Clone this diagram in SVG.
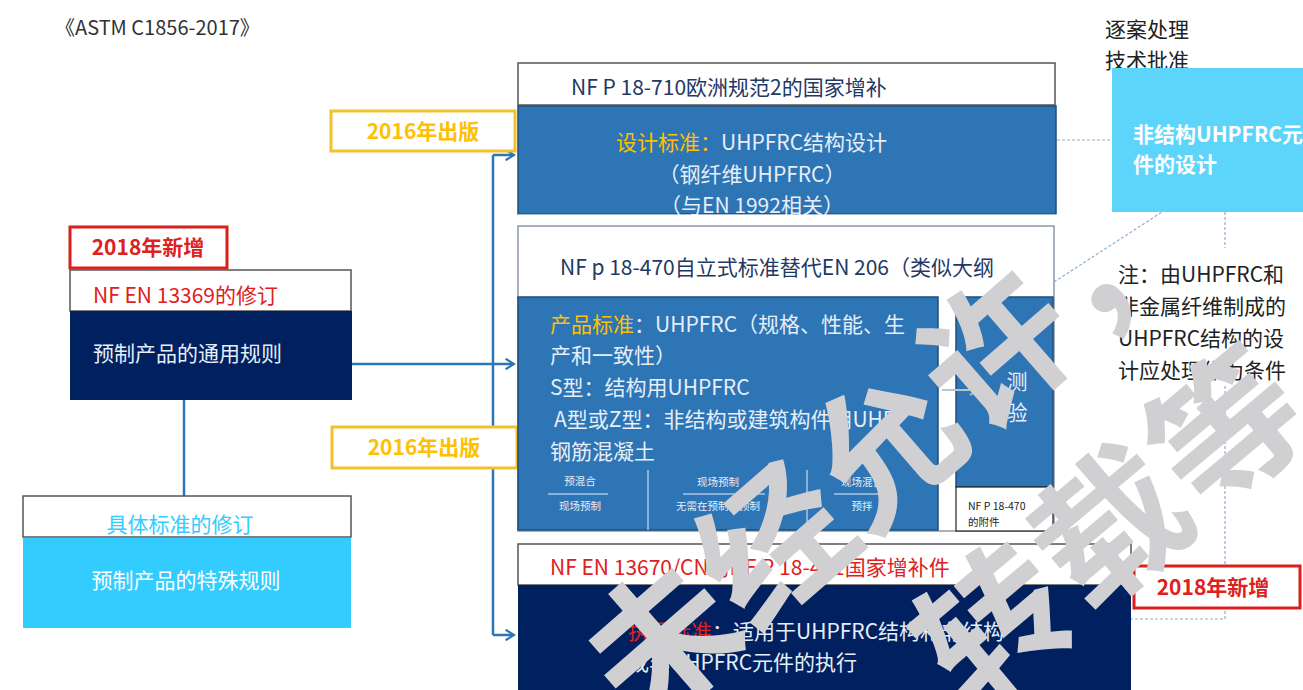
<svg xmlns="http://www.w3.org/2000/svg" width="1303" height="690" viewBox="0 0 1303 690">
<style>
text{font-family:"Noto Sans CJK SC","Noto Sans",sans-serif;font-size:21px}
.hdr{fill:#fff;stroke:#555;stroke-width:1.5}
.blue{fill:#2e75b6;stroke:#1f4e79;stroke-width:1.5}
.navy{fill:#002060}
.w{fill:#fff}
.wt{fill:#e6eef7}
.nv{fill:#1f3864}
.red{fill:#e02020}
.yel{fill:#ffc000}
.dark{fill:#222}
.bold{font-weight:bold}
.sm{font-size:10.5px;fill:#e6eef7}
.ybox{fill:#fff;stroke:#f2c12e;stroke-width:3}
.rbox{fill:#fff;stroke:#d8201c;stroke-width:3}
.conn{fill:none;stroke:#2e75b6;stroke-width:2.5}
.dot{fill:none;stroke:#8fb0cc;stroke-width:1.2;stroke-dasharray:3 2}
.wm{font-size:148px;font-weight:bold;fill:#d0d0d2}
</style>
<defs>
<marker id="arr" viewBox="0 0 12 12" refX="10" refY="6" markerWidth="5" markerHeight="5" orient="auto" markerUnits="strokeWidth">
<path d="M2,1 L10,6 L2,11" fill="none" stroke="#2e75b6" stroke-width="2.2"/>
</marker>
<marker id="garr" viewBox="0 0 12 12" refX="10" refY="6" markerWidth="6" markerHeight="6" orient="auto" markerUnits="strokeWidth">
<path d="M2,1 L10,6 L2,11" fill="none" stroke="#b8c4d0" stroke-width="2"/>
</marker>
</defs>
<rect width="1303" height="690" fill="#fff"/>

<text id="astm" x="55" y="35" style="font-size:20px" fill="#333">《ASTM C1856-2017》</text>

<g id="connectors">
<path class="conn" d="M184,400 V496"/>
<path class="conn" d="M352,364 H514" marker-end="url(#arr)"/>
<path class="conn" d="M493,155 V635"/>
<path class="conn" d="M493,155 H514" marker-end="url(#arr)"/>
<path class="conn" d="M493,635 H514" marker-end="url(#arr)"/>
<path class="dot" d="M1057,140 H1112"/>
<path class="dot" d="M1054,282 L1162,212"/>
<path class="dot" d="M1225,212 V248"/>
<path class="dot" d="M1225,386 V619 H1131"/>
</g>

<g id="new2018-left">
<rect class="rbox" x="70" y="227" width="157" height="41"/>
<text class="red bold" x="148" y="255" text-anchor="middle">2018年新增</text>
</g>

<g id="general-rules">
<rect class="hdr" x="70" y="270" width="281" height="41"/>
<text class="red" x="93" y="303">NF EN 13369的修订</text>
<rect class="navy" x="70" y="311" width="282" height="89"/>
<text class="wt" x="93" y="361">预制产品的通用规则</text>
</g>

<g id="specific-rules">
<rect class="hdr" x="23" y="496" width="328" height="41"/>
<text x="180" y="532" text-anchor="middle" fill="#33ccff">具体标准的修订</text>
<rect x="23" y="538" width="328" height="90" fill="#33ccff"/>
<text class="w" x="186" y="588" text-anchor="middle">预制产品的特殊规则</text>
</g>

<g id="pub2016-a">
<rect class="ybox" x="331" y="111" width="184" height="40"/>
<text class="yel bold" x="423" y="139" text-anchor="middle">2016年出版</text>
</g>

<g id="pub2016-b">
<rect class="ybox" x="332" y="427" width="185" height="41"/>
<text class="yel bold" x="424" y="455" text-anchor="middle">2016年出版</text>
</g>

<g id="nfp18710">
<rect class="hdr" x="518" y="63" width="537" height="42"/>
<text class="nv" x="571" y="95">NF P 18-710欧洲规范2的国家增补</text>
<rect class="blue" x="518" y="106" width="538" height="108"/>
<text x="616" y="150"><tspan class="yel">设计标准：</tspan><tspan class="wt">UHPFRC结构设计</tspan></text>
<text class="wt" x="752" y="182" text-anchor="middle">（钢纤维UHPFRC）</text>
<text class="wt" x="752" y="213" text-anchor="middle">（与EN 1992相关）</text>
<rect x="518" y="214.5" width="539" height="8" fill="#fff"/>
</g>

<g id="nfp18470">
<rect x="518" y="226" width="536" height="305" fill="#fff" stroke="#8a98a8" stroke-width="1.5"/>
<text class="nv" x="560" y="275">NF p 18-470自立式标准替代EN 206（类似大纲</text>
<rect class="blue" x="518" y="297" width="420" height="233"/>
<text x="550" y="332"><tspan class="yel">产品标准</tspan><tspan class="wt">：UHPFRC（规格、性能、生</tspan></text>
<text class="wt" x="550" y="363">产和一致性）</text>
<text class="wt" x="550" y="395">S型：结构用UHPFRC</text>
<text class="wt" x="554" y="427">A型或Z型：非结构或建筑构件用UHP</text>
<text class="wt" x="550" y="459">钢筋混凝土</text>
<text class="sm" x="580" y="485" text-anchor="middle">预混合</text>
<line x1="548" y1="494" x2="608" y2="494" stroke="#e6eef7" stroke-width="1"/>
<text class="sm" x="580" y="510" text-anchor="middle">现场预制</text>
<line x1="648" y1="470" x2="648" y2="530" stroke="#e6eef7" stroke-width="1"/>
<text class="sm" x="718" y="486" text-anchor="middle">现场预制</text>
<line x1="683" y1="494" x2="765" y2="494" stroke="#e6eef7" stroke-width="1"/>
<text class="sm" x="718" y="510" text-anchor="middle">无需在预制厂预制</text>
<line x1="807" y1="470" x2="807" y2="530" stroke="#e6eef7" stroke-width="1"/>
<text class="sm" x="862" y="486" text-anchor="middle">现场混合</text>
<line x1="834" y1="494" x2="895" y2="494" stroke="#e6eef7" stroke-width="1"/>
<text class="sm" x="862" y="510" text-anchor="middle">预拌</text>
<rect class="blue" x="956" y="297" width="97" height="190"/>
<text class="wt" x="1017" y="389" text-anchor="middle">测</text>
<text class="wt" x="1017" y="420" text-anchor="middle">验</text>
<path d="M942,390 H978" fill="none" stroke="#b8c4d0" stroke-width="2" marker-end="url(#garr)"/>
<rect x="956" y="487" width="97" height="44" fill="#fff" stroke="#222" stroke-width="1.2"/>
<text x="968" y="510" style="font-size:10.5px" fill="#222">NF P 18-470</text>
<text x="968" y="526" style="font-size:10.5px" fill="#222">的附件</text>
</g>

<g id="nfp18451">
<rect class="hdr" x="518" y="544" width="613" height="41"/>
<text class="red" x="550" y="575">NF EN 13670/CN的NF P 18-451国家增补件</text>
<rect class="navy" x="518" y="585" width="613" height="105"/>
<text x="628" y="639"><tspan class="red">执行标准</tspan><tspan class="wt">：适用于UHPFRC结构和非结构</tspan></text>
<text class="wt" x="628" y="670">或非UHPFRC元件的执行</text>
</g>

<g id="new2018-right">
<rect class="rbox" x="1134" y="566" width="166" height="42"/>
<text class="red bold" x="1213" y="595" text-anchor="middle">2018年新增</text>
</g>

<g id="case-approval">
<text class="dark" x="1105" y="37">逐案处理</text>
<text class="dark" x="1105" y="68">技术批准</text>
</g>

<g id="nonstructural">
<rect x="1112" y="68" width="191" height="144" fill="#5dd4fa"/>
<text class="w bold" x="1133" y="142">非结构UHPFRC元</text>
<text class="w bold" x="1133" y="172">件的设计</text>
</g>

<g id="note">
<text class="dark" x="1118" y="282">注：由UHPFRC和</text>
<text class="dark" x="1118" y="314">非金属纤维制成的</text>
<text class="dark" x="1118" y="346">UHPFRC结构的设</text>
<text class="dark" x="1118" y="378">计应处理作为条件</text>
</g>

<g id="watermark">
<text class="wm" transform="translate(642,731) rotate(-41)">未经允许，</text>
<text class="wm" transform="translate(972,714) rotate(-40)" letter-spacing="4">转载等</text>
</g>
</svg>
